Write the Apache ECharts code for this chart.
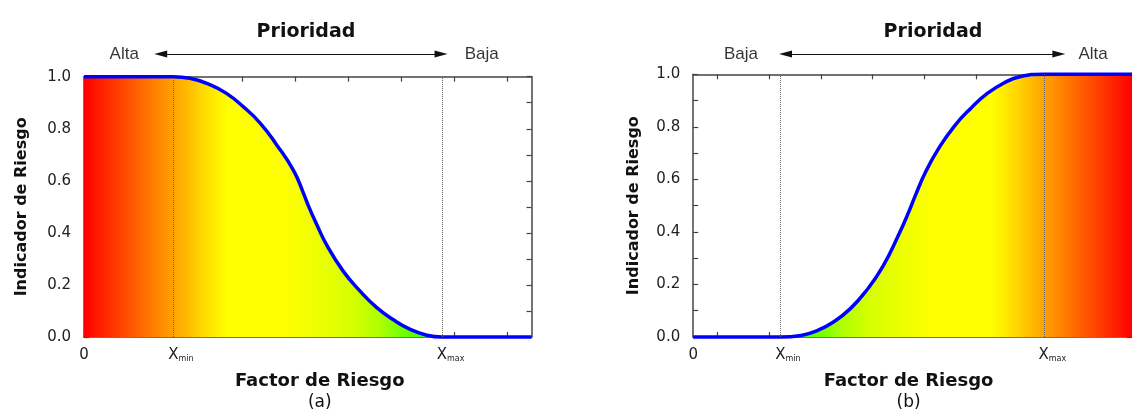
<!DOCTYPE html>
<html>
<head>
<meta charset="utf-8">
<script src="https://cdn.jsdelivr.net/npm/echarts@6/dist/echarts.min.js"></script>
<style>
html,body{margin:0;padding:0;background:#fff;}
#chart{width:1132px;height:416px;}
</style>
</head>
<body>
<div id="chart"></div>
<script>
// ---------- data ----------
const AXIS_MAX = 8.46;               // factor axis extent (both panels)
const XMIN_A = 1.69, XMAX_A = 6.77;  // panel (a)
const XMIN_B = 1.68, XMAX_B = 6.76;  // panel (b)

const CURVE_A_X = [0, 1.69, 2.00, 2.38, 2.70, 3.01, 3.33, 3.64, 3.96, 4.15, 4.24, 4.40, 4.59, 4.90, 5.22, 5.53, 5.85, 6.16, 6.48, 6.77, 8.46];
const CURVE_A_Y = [1, 1, 0.994, 0.97, 0.935, 0.885, 0.822, 0.739, 0.640, 0.552, 0.505, 0.432, 0.353, 0.253, 0.176, 0.114, 0.066, 0.030, 0.007, 0, 0];

const CURVE_B_X = [0, 1.68, 2.08, 2.40, 2.71, 3.03, 3.34, 3.66, 3.97, 4.16, 4.29, 4.48, 4.73, 5.04, 5.36, 5.67, 5.99, 6.30, 6.76, 8.46];
const CURVE_B_Y = [0, 0, 0.006, 0.025, 0.058, 0.108, 0.177, 0.270, 0.393, 0.478, 0.542, 0.628, 0.717, 0.804, 0.872, 0.927, 0.967, 0.991, 1, 1];

const TICKS_A = [0, 1, 2, 3, 4, 5, 6, 7, 8];
const TICKS_B = [0.46, 1.46, 2.46, 3.46, 4.46, 5.46, 6.46, 7.46, 8.46];
const Y_TICKS = [0, 0.1, 0.2, 0.3, 0.4, 0.5, 0.6, 0.7, 0.8, 0.9, 1.0];
const Y_LABELS = [0, 0.2, 0.4, 0.6, 0.8, 1.0];

const Y_NAME = 'Indicador de Riesgo';
const X_NAME = 'Factor de Riesgo';
const PANEL_TAGS = ['(a)', '(b)'];
const TITLE = 'Prioridad';

const ARROW_A = [1.45, 6.75];
const ARROW_B = [1.78, 7.05];
const WORDS_A = ['Alta', 'Baja'];
const WORDS_A_X = [0.76, 7.52];
const WORDS_B = ['Baja', 'Alta'];
const WORDS_B_X = [0.92, 7.71];

// ---------- styles ----------
const FONT = "'DejaVu Sans', 'Liberation Sans', sans-serif";
const NARROW = "'Liberation Sans Narrow', 'Liberation Sans', sans-serif";
const AXIS_COLOR = '#444';
const STOPS = [[0,'#ff0000'],[0.1,'#ff5200'],[0.2,'#ffa200'],[0.27,'#ffdc00'],[0.32,'#ffff00'],[0.45,'#ffff00'],[0.52,'#eeff00'],[0.6,'#d6ff00'],[0.66,'#aeff00'],[0.71,'#74ff00'],[0.76,'#44ff00'],[1,'#00ff00']];

function grad(reverse) {
  const stops = STOPS.map(([o, c]) => ({offset: reverse ? 1 - o : o, color: c}));
  stops.sort((a, b) => a.offset - b.offset);
  return new echarts.graphic.LinearGradient(0, 0, 1, 0, stops);
}
function zip(xs, ys) { return xs.map((x, i) => [x, ys[i]]); }

function near(a, b) { return Math.abs(a - b) < 1e-6; }
function xLabel(xmin, xmax) {
  return function (v) {
    if (near(v, 0)) return '{n|0}';
    if (near(v, xmin)) return '{p1|}{x|X}{s|min}';
    if (near(v, xmax)) return '{p2|}{x|X}{s|max}';
    return '';
  };
}
const X_RICH = {
  n: {fontFamily: FONT, fontSize: 15, color: '#222', lineHeight: 15},
  x: {fontFamily: FONT, fontSize: 15, color: '#222', lineHeight: 15},
  s: {fontFamily: FONT, fontSize: 8, color: '#222', lineHeight: 4, verticalAlign: 'bottom'},
  p1: {width: 15},
  p2: {width: 17}
};

function mainX(grid, ticks, xmin, xmax, tag, pad) {
  return {
    gridIndex: grid, type: 'value', min: 0, max: AXIS_MAX, position: 'bottom',
    axisLine: {show: true, onZero: false, lineStyle: {color: AXIS_COLOR, width: 1.5}},
    axisTick: {show: true, inside: true, length: 5, customValues: ticks, lineStyle: {color: AXIS_COLOR, width: 1.2}},
    axisLabel: {show: true, margin: 11, customValues: [0, xmin, xmax], formatter: xLabel(xmin, xmax), rich: X_RICH, showMinLabel: true, showMaxLabel: true},
    splitLine: {show: false},
    name: '{t|' + X_NAME + '}\n{u|' + tag + '}',
    nameLocation: 'middle', nameGap: 34,
    nameTextStyle: {padding: pad, rich: {
      t: {fontFamily: FONT, fontWeight: 'bold', fontSize: 18, color: '#111', lineHeight: 21},
      u: {fontFamily: FONT, fontSize: 17, color: '#111', lineHeight: 21}
    }}
  };
}
function topX(grid, ticks) {
  return {
    gridIndex: grid, type: 'value', min: 0, max: AXIS_MAX, position: 'top',
    axisLine: {show: true, onZero: false, lineStyle: {color: AXIS_COLOR, width: 1.5}},
    axisTick: {show: true, inside: true, length: 5, customValues: ticks, lineStyle: {color: AXIS_COLOR, width: 1.2}},
    axisLabel: {show: false}, splitLine: {show: false}
  };
}
function leftY(grid, gap) {
  return {
    gridIndex: grid, type: 'value', min: 0, max: 1, position: 'left',
    axisLine: {show: true, onZero: false, lineStyle: {color: AXIS_COLOR, width: 1.5}},
    axisTick: {show: true, inside: true, length: 5, customValues: Y_TICKS, lineStyle: {color: AXIS_COLOR, width: 1.2}},
    axisLabel: {show: true, margin: 13, customValues: Y_LABELS, formatter: v => v.toFixed(1), fontFamily: FONT, fontSize: 15, color: '#222'},
    splitLine: {show: false},
    name: Y_NAME, nameLocation: 'middle', nameGap: gap, nameRotate: 90,
    nameTextStyle: {fontFamily: FONT, fontWeight: 'bold', fontSize: 16, color: '#111', lineHeight: 20}
  };
}
function rightY(grid) {
  return {
    gridIndex: grid, type: 'value', min: 0, max: 1, position: 'right',
    axisLine: {show: true, onZero: false, lineStyle: {color: AXIS_COLOR, width: 1.5}},
    axisTick: {show: true, inside: true, length: 5, customValues: Y_TICKS, lineStyle: {color: AXIS_COLOR, width: 1.2}},
    axisLabel: {show: false}, splitLine: {show: false}
  };
}
function annX(grid) { return {gridIndex: grid, type: 'value', min: 0, max: AXIS_MAX, show: false}; }
function annY(grid) { return {gridIndex: grid, type: 'value', min: 0, max: 1, show: false}; }

function curveSeries(xi, xs, ys, xmin, xmax, reverse) {
  return {
    type: 'line', xAxisIndex: xi, yAxisIndex: xi, data: zip(xs, ys),
    smooth: 0.5, showSymbol: false, symbol: 'none', clip: false,
    lineStyle: {color: '#0000ff', width: 3.5},
    areaStyle: {color: grad(reverse), opacity: 1},
    z: 2,
    markLine: {
      silent: true, symbol: ['none', 'none'], label: {show: false}, animation: false,
      lineStyle: {color: '#666', type: 'dotted', width: 1},
      data: [{xAxis: xmin}, {xAxis: xmax}]
    }
  };
}
function arrowSeries(idx, arrow) {
  return {
    type: 'line', xAxisIndex: idx, yAxisIndex: idx, data: [[arrow[0], 0.5]],
    showSymbol: false, symbol: 'none', lineStyle: {width: 0}, silent: true,
    markLine: {
      silent: true, animation: false, symbol: ['triangle', 'triangle'], symbolSize: [7, 13],
      label: {show: false}, lineStyle: {color: '#111', width: 1, type: 'solid'},
      itemStyle: {color: '#111'},
      data: [[{coord: [arrow[0], 0.5]}, {coord: [arrow[1], 0.5]}]]
    }
  };
}
function wordSeries(idx, words, xs) {
  return {
    type: 'scatter', xAxisIndex: idx, yAxisIndex: idx, silent: true,
    symbol: 'circle', symbolSize: 1, itemStyle: {color: 'rgba(0,0,0,0)'},
    data: words.map((w, i) => ({name: w, value: [xs[i], 0.5]})),
    label: {show: true, position: 'inside', formatter: '{b}', fontFamily: NARROW, fontSize: 17, color: '#000'}
  };
}

const chart = echarts.init(document.getElementById('chart'), null, {renderer: 'canvas'});
chart.setOption({
  animation: false,
  backgroundColor: '#ffffff',
  title: [
    {text: TITLE, left: 301, top: 16, textAlign: 'center', textStyle: {fontFamily: FONT, fontWeight: 'bold', fontSize: 19, color: '#111', lineHeight: 22}},
    {text: TITLE, left: 928, top: 16, textAlign: 'center', textStyle: {fontFamily: FONT, fontWeight: 'bold', fontSize: 19, color: '#111', lineHeight: 22}}
  ],
  grid: [
    {left: 84, right: 600.5, top: 76.7, bottom: 71.7},
    {left: 693.2, right: -8.7, top: 74.3, bottom: 74.3},
    {left: 84, right: 600.5, top: 44, height: 20},
    {left: 693.2, right: -8.7, top: 44, height: 20}
  ],
  xAxis: [
    mainX(0, TICKS_A, XMIN_A, XMAX_A, PANEL_TAGS[0], [0, 0, 0, 24]),
    topX(0, TICKS_A),
    mainX(1, TICKS_B, XMIN_B, XMAX_B, PANEL_TAGS[1], [0, 8, 0, 0]),
    topX(1, TICKS_B),
    annX(2),
    annX(3)
  ],
  yAxis: [
    leftY(0, 52),
    rightY(0),
    leftY(1, 49),
    rightY(1),
    annY(2),
    annY(3)
  ],
  series: [
    curveSeries(0, CURVE_A_X, CURVE_A_Y, XMIN_A, XMAX_A, false),
    curveSeries(2, CURVE_B_X, CURVE_B_Y, XMIN_B, XMAX_B, true),
    arrowSeries(4, ARROW_A),
    arrowSeries(5, ARROW_B),
    wordSeries(4, WORDS_A, WORDS_A_X),
    wordSeries(5, WORDS_B, WORDS_B_X)
  ]
});
</script>
</body>
</html>
